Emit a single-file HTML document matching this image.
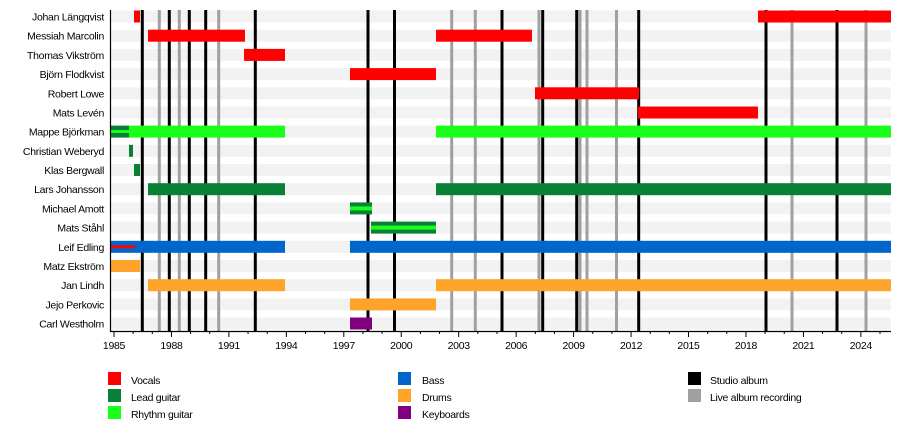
<!DOCTYPE html>
<html><head><meta charset="utf-8"><style>
html,body{margin:0;padding:0;background:#fff;width:900px;height:440px;overflow:hidden}
text{font-family:"Liberation Sans",sans-serif;fill:#000}
</style></head><body>
<svg width="900" height="440" xmlns="http://www.w3.org/2000/svg">
<g fill="#f2f2f2">
<rect x="111" y="10.5" width="780" height="12"/><rect x="111" y="29.7" width="780" height="12"/><rect x="111" y="48.9" width="780" height="12"/><rect x="111" y="68.1" width="780" height="12"/><rect x="111" y="87.3" width="780" height="12"/><rect x="111" y="106.5" width="780" height="12"/><rect x="111" y="125.6" width="780" height="12"/><rect x="111" y="144.8" width="780" height="12"/><rect x="111" y="164" width="780" height="12"/><rect x="111" y="183.2" width="780" height="12"/><rect x="111" y="202.4" width="780" height="12"/><rect x="111" y="221.6" width="780" height="12"/><rect x="111" y="240.8" width="780" height="12"/><rect x="111" y="260" width="780" height="12"/><rect x="111" y="279.2" width="780" height="12"/><rect x="111" y="298.4" width="780" height="12"/><rect x="111" y="317.5" width="780" height="12"/>
</g>
<g stroke-width="3">
<g stroke="#a0a0a0">
<line x1="159.3" y1="10" x2="159.3" y2="331"/><line x1="179.3" y1="10" x2="179.3" y2="331"/><line x1="218.7" y1="10" x2="218.7" y2="331"/><line x1="451.7" y1="10" x2="451.7" y2="331"/><line x1="475.3" y1="10" x2="475.3" y2="331"/><line x1="539" y1="10" x2="539" y2="331"/><line x1="580" y1="10" x2="580" y2="331"/><line x1="587" y1="10" x2="587" y2="331"/><line x1="616.5" y1="10" x2="616.5" y2="331"/><line x1="792" y1="10" x2="792" y2="331"/><line x1="866" y1="10" x2="866" y2="331"/>
</g>
<g stroke="#000">
<line x1="142.3" y1="10" x2="142.3" y2="331"/><line x1="169.3" y1="10" x2="169.3" y2="331"/><line x1="189.3" y1="10" x2="189.3" y2="331"/><line x1="205.7" y1="10" x2="205.7" y2="331"/><line x1="255.3" y1="10" x2="255.3" y2="331"/><line x1="368" y1="10" x2="368" y2="331"/><line x1="394.5" y1="10" x2="394.5" y2="331"/><line x1="502" y1="10" x2="502" y2="331"/><line x1="542.7" y1="10" x2="542.7" y2="331"/><line x1="576.7" y1="10" x2="576.7" y2="331"/><line x1="638.7" y1="10" x2="638.7" y2="331"/><line x1="766" y1="10" x2="766" y2="331"/><line x1="837" y1="10" x2="837" y2="331"/>
</g>
</g>
<!-- bars -->
<g>
<rect x="134" y="10.5" width="6" height="12" fill="#f00"/><rect x="758" y="10.5" width="133" height="12" fill="#f00"/>
<rect x="148" y="29.7" width="97" height="12" fill="#f00"/><rect x="436" y="29.7" width="96" height="12" fill="#f00"/>
<rect x="244" y="48.9" width="41" height="12" fill="#f00"/>
<rect x="350" y="68.1" width="86" height="12" fill="#f00"/>
<rect x="535" y="87.3" width="104" height="12" fill="#f00"/>
<rect x="638" y="106.5" width="120" height="12" fill="#f00"/>
<rect x="111" y="125.6" width="18" height="12" fill="#0a7f36"/><rect x="111" y="130" width="18" height="3" fill="#1aff1a"/><rect x="129" y="125.6" width="156" height="12" fill="#1aff1a"/><rect x="436" y="125.6" width="455" height="12" fill="#1aff1a"/>
<rect x="129" y="144.8" width="4" height="12" fill="#0a7f36"/>
<rect x="134" y="164" width="6" height="12" fill="#0a7f36"/>
<rect x="148" y="183.2" width="137" height="12" fill="#0a7f36"/><rect x="436" y="183.2" width="455" height="12" fill="#0a7f36"/>
<rect x="350" y="202.4" width="22" height="12" fill="#0a7f36"/><rect x="350" y="206.4" width="22" height="4" fill="#1aff1a"/>
<rect x="371" y="221.6" width="65" height="12" fill="#0a7f36"/><rect x="371" y="225.6" width="65" height="4" fill="#1aff1a"/>
<rect x="111" y="240.8" width="174" height="12" fill="#0066cc"/><rect x="111" y="245.3" width="24" height="3" fill="#f00"/><rect x="350" y="240.8" width="541" height="12" fill="#0066cc"/>
<rect x="111" y="260" width="29" height="12" fill="#ffa32a"/>
<rect x="148" y="279.2" width="137" height="12" fill="#ffa32a"/><rect x="436" y="279.2" width="455" height="12" fill="#ffa32a"/>
<rect x="350" y="298.4" width="86" height="12" fill="#ffa32a"/>
<rect x="350" y="317.5" width="22" height="12" fill="#800080"/>
</g>
<!-- axes -->
<line x1="110.5" y1="10" x2="110.5" y2="332" stroke="#000" stroke-width="1.2"/>
<line x1="110" y1="331.5" x2="891" y2="331.5" stroke="#000" stroke-width="1.2"/>
<g stroke="#000" stroke-width="1" id="ticks"></g>
<g font-size="10.5" text-anchor="end" letter-spacing="-0.3">
<text x="104" y="20.5">Johan Längqvist</text><text x="104" y="39.7">Messiah Marcolin</text><text x="104" y="58.9">Thomas Vikström</text><text x="104" y="78.1">Björn Flodkvist</text><text x="104" y="97.3">Robert Lowe</text><text x="104" y="116.5">Mats Levén</text><text x="104" y="135.6">Mappe Björkman</text><text x="104" y="154.8">Christian Weberyd</text><text x="104" y="174">Klas Bergwall</text><text x="104" y="193.2">Lars Johansson</text><text x="104" y="212.4">Michael Amott</text><text x="104" y="231.6">Mats Ståhl</text><text x="104" y="250.8">Leif Edling</text><text x="104" y="270">Matz Ekström</text><text x="104" y="289.2">Jan Lindh</text><text x="104" y="308.4">Jejo Perkovic</text><text x="104" y="327.5">Carl Westholm</text>
</g>
<g font-size="10.5" text-anchor="middle" letter-spacing="-0.3" id="labels"></g>
<g font-size="10.5" letter-spacing="-0.3">
<rect x="108" y="372" width="13" height="13" fill="#f00"/><text x="131" y="384">Vocals</text>
<rect x="108" y="389" width="13" height="13" fill="#0a7f36"/><text x="131" y="401">Lead guitar</text>
<rect x="108" y="406" width="13" height="13" fill="#1aff1a"/><text x="131" y="418">Rhythm guitar</text>
<rect x="398" y="372" width="13" height="13" fill="#0066cc"/><text x="422" y="384">Bass</text>
<rect x="398" y="389" width="13" height="13" fill="#ffa32a"/><text x="422" y="401">Drums</text>
<rect x="398" y="406" width="13" height="13" fill="#800080"/><text x="422" y="418">Keyboards</text>
<rect x="688" y="372" width="13" height="13" fill="#000"/><text x="710" y="384">Studio album</text>
<rect x="688" y="389" width="13" height="13" fill="#a0a0a0"/><text x="710" y="401">Live album recording</text>
</g>
</svg>
<script>
var t=document.getElementById('ticks'),l=document.getElementById('labels'),ns='http://www.w3.org/2000/svg';
for(var y=0;y<=40;y++){var x=114+y*19.15;var major=(y%3==0);var ln=document.createElementNS(ns,'line');ln.setAttribute('x1',x);ln.setAttribute('x2',x);ln.setAttribute('y1',331);ln.setAttribute('y2',major?337:334);t.appendChild(ln);
if(major){var tx=document.createElementNS(ns,'text');tx.setAttribute('x',x);tx.setAttribute('y',349);tx.textContent=1985+y;l.appendChild(tx);}}
</script>
</body></html>
